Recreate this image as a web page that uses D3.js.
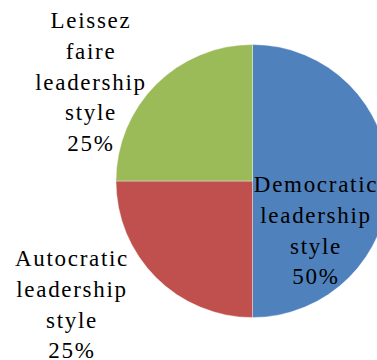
<!DOCTYPE html>
<html>
<head>
<meta charset="utf-8">
<script src="https://cdn.jsdelivr.net/npm/d3@7"></script>
<style>
  html, body { margin: 0; padding: 0; background: #fff; overflow: hidden; }
  svg { display: block; }
  .lbl text { font-family: "Liberation Serif", "Times New Roman", Times, serif; font-size: 23px; letter-spacing: 1.7px; }
</style>
</head>
<body>
<svg id="chart" width="377" height="360"></svg>
<script>
// chart data
const categories = ["Democratic leadership style", "Autocratic leadership style", "Leissez faire leadership style"];
const values = [50, 25, 25];
const percentLabels = ["50%", "25%", "25%"];
const colors = ["#4F81BD", "#C0504D", "#9BBB59"];

// label lines (as wrapped in the original)
const labelLines = [
  ["Democratic", "leadership", "style"],
  ["Autocratic", "leadership", "style"],
  ["Leissez", "faire", "leadership", "style"]
];
// label anchor: centre x, first baseline y
const labelPos = [[316, 192], [72, 266], [91, 28]];

const cx = 252.5, cy = 181, R = 136.5;
const lineH = 30.8;

const svg = d3.select("#chart");
const g = svg.append("g").attr("transform", `translate(${cx},${cy})`);

const pie = d3.pie().sort(null).value(d => d.v);
const arc = d3.arc().innerRadius(0).outerRadius(R);
const data = values.map((v, i) => ({ v, i }));

g.selectAll("path").data(pie(data)).enter().append("path")
  .attr("d", arc)
  .attr("fill", d => colors[d.data.i])
  .attr("stroke", "#ffffff")
  .attr("stroke-width", 0.6)
  .attr("stroke-opacity", 0.6);

// labels
const lbl = svg.append("g").attr("class", "lbl")
  .attr("fill", "#000")
  .attr("text-anchor", "middle");

categories.forEach((c, i) => {
  const lines = labelLines[i].concat([percentLabels[i]]);
  const t = lbl.append("text");
  lines.forEach((ln, k) => {
    t.append("tspan")
      .attr("x", labelPos[i][0])
      .attr("y", labelPos[i][1] + k * lineH)
      .text(ln);
  });
});
</script>
</body>
</html>
